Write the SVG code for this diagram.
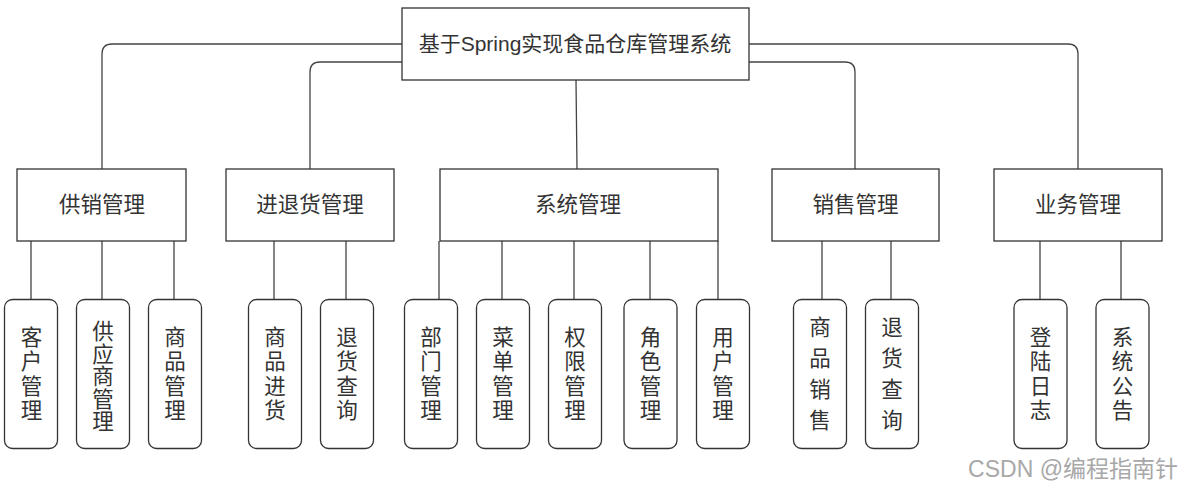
<svg xmlns="http://www.w3.org/2000/svg" width="1181" height="482" viewBox="0 0 1181 482">
<style>
text{font-family:"Liberation Sans","Noto Sans CJK SC",sans-serif;fill:#333;text-anchor:middle;dominant-baseline:central}
.box{fill:#fff;stroke:#333;stroke-width:1.3}
.leaf{fill:#fff;stroke:#333;stroke-width:1.3}
.conn path{fill:none;stroke:#444;stroke-width:1.3}
.t-root{font-size:21px}
.t-mid{font-size:21.5px}
.t-leaf{font-size:21.5px}
.wm{font-size:23px;fill:#a8a8a8;text-anchor:end;dominant-baseline:alphabetic}
</style>
<rect width="1181" height="482" fill="#fff"/>
<g class="conn">
<path d="M402,44 H112 Q102,44 102,54 V169"/>
<path d="M402,62 H320 Q310,62 310,72 V169"/>
<path d="M576,80 L577,169"/>
<path d="M749,62 H845 Q855,62 855,72 V169"/>
<path d="M749,44 H1068 Q1078,44 1078,54 V169"/>
<path d="M31,241 V299 M102,241 V299 M174,241 V299"/>
<path d="M274,241 V299 M346,241 V299"/>
<path d="M439,241 V299 M502,241 V299 M574,241 V299 M650,241 V299 M718,241 V299"/>
<path d="M822,241 V299 M891,241 V299"/>
<path d="M1040,241 V299 M1121,241 V299"/>
</g>
<g id="root"><rect class="box" x="402" y="8" width="347" height="72"/><text class="t-root" x="575" y="43">基于Spring实现食品仓库管理系统</text></g>
<g id="gxgl"><rect class="box" x="17" y="169" width="169" height="72"/><text class="t-mid" x="102" y="205">供销管理</text></g>
<g id="jthgl"><rect class="box" x="226" y="169" width="168" height="72"/><text class="t-mid" x="310" y="205">进退货管理</text></g>
<g id="xtgl"><rect class="box" x="440" y="169" width="278" height="72"/><text class="t-mid" x="578" y="205">系统管理</text></g>
<g id="xsgl"><rect class="box" x="772" y="169" width="167" height="72"/><text class="t-mid" x="855.5" y="205">销售管理</text></g>
<g id="ywgl"><rect class="box" x="994" y="169" width="168" height="72"/><text class="t-mid" x="1078" y="205">业务管理</text></g>

<g id="khgl"><rect class="leaf" x="4.5" y="299.5" width="53" height="149" rx="8"/><text class="t-leaf"><tspan x="31.5" y="337.5">客</tspan><tspan x="31.5" y="362">户</tspan><tspan x="31.5" y="386.5">管</tspan><tspan x="31.5" y="411">理</tspan></text></g>
<g id="gysgl"><rect class="leaf" x="76.5" y="299.5" width="53" height="149" rx="8"/><text class="t-leaf"><tspan x="103" y="332">供</tspan><tspan x="103" y="354.5">应</tspan><tspan x="103" y="377">商</tspan><tspan x="103" y="399.5">管</tspan><tspan x="103" y="422">理</tspan></text></g>
<g id="spgl"><rect class="leaf" x="148.5" y="299.5" width="53" height="149" rx="8"/><text class="t-leaf"><tspan x="175" y="337.5">商</tspan><tspan x="175" y="362">品</tspan><tspan x="175" y="386.5">管</tspan><tspan x="175" y="411">理</tspan></text></g>
<g id="spjh"><rect class="leaf" x="248.5" y="299.5" width="53" height="149" rx="8"/><text class="t-leaf"><tspan x="275" y="337.5">商</tspan><tspan x="275" y="362">品</tspan><tspan x="275" y="386.5">进</tspan><tspan x="275" y="411">货</tspan></text></g>
<g id="thcx1"><rect class="leaf" x="320.5" y="299.5" width="53" height="149" rx="8"/><text class="t-leaf"><tspan x="347" y="337.5">退</tspan><tspan x="347" y="362">货</tspan><tspan x="347" y="386.5">查</tspan><tspan x="347" y="411">询</tspan></text></g>
<g id="bmgl"><rect class="leaf" x="404.5" y="299.5" width="53" height="149" rx="8"/><text class="t-leaf"><tspan x="431" y="337.5">部</tspan><tspan x="431" y="362">门</tspan><tspan x="431" y="386.5">管</tspan><tspan x="431" y="411">理</tspan></text></g>
<g id="cdgl"><rect class="leaf" x="476.5" y="299.5" width="53" height="149" rx="8"/><text class="t-leaf"><tspan x="503" y="337.5">菜</tspan><tspan x="503" y="362">单</tspan><tspan x="503" y="386.5">管</tspan><tspan x="503" y="411">理</tspan></text></g>
<g id="qxgl"><rect class="leaf" x="548.5" y="299.5" width="53" height="149" rx="8"/><text class="t-leaf"><tspan x="575" y="337.5">权</tspan><tspan x="575" y="362">限</tspan><tspan x="575" y="386.5">管</tspan><tspan x="575" y="411">理</tspan></text></g>
<g id="jsgl"><rect class="leaf" x="624" y="299.5" width="53" height="149" rx="8"/><text class="t-leaf"><tspan x="650.5" y="337.5">角</tspan><tspan x="650.5" y="362">色</tspan><tspan x="650.5" y="386.5">管</tspan><tspan x="650.5" y="411">理</tspan></text></g>
<g id="yhgl"><rect class="leaf" x="696.5" y="299.5" width="53" height="149" rx="8"/><text class="t-leaf"><tspan x="723" y="337.5">用</tspan><tspan x="723" y="362">户</tspan><tspan x="723" y="386.5">管</tspan><tspan x="723" y="411">理</tspan></text></g>
<g id="spxs"><rect class="leaf" x="793.5" y="299.5" width="53" height="149" rx="8"/><text class="t-leaf"><tspan x="820" y="327.5">商</tspan><tspan x="820" y="358.5">品</tspan><tspan x="820" y="389.5">销</tspan><tspan x="820" y="420.5">售</tspan></text></g>
<g id="thcx2"><rect class="leaf" x="865.5" y="299.5" width="53" height="149" rx="8"/><text class="t-leaf"><tspan x="892" y="327.5">退</tspan><tspan x="892" y="358.5">货</tspan><tspan x="892" y="389.5">查</tspan><tspan x="892" y="420.5">询</tspan></text></g>
<g id="dlrz"><rect class="leaf" x="1014" y="299.5" width="53" height="149" rx="8"/><text class="t-leaf"><tspan x="1040.5" y="337.5">登</tspan><tspan x="1040.5" y="362">陆</tspan><tspan x="1040.5" y="386.5">日</tspan><tspan x="1040.5" y="411">志</tspan></text></g>
<g id="xtgg"><rect class="leaf" x="1096" y="299.5" width="53" height="149" rx="8"/><text class="t-leaf"><tspan x="1122.5" y="337.5">系</tspan><tspan x="1122.5" y="362">统</tspan><tspan x="1122.5" y="386.5">公</tspan><tspan x="1122.5" y="411">告</tspan></text></g>
<text class="wm" x="1178" y="477">CSDN @编程指南针</text>
</svg>
